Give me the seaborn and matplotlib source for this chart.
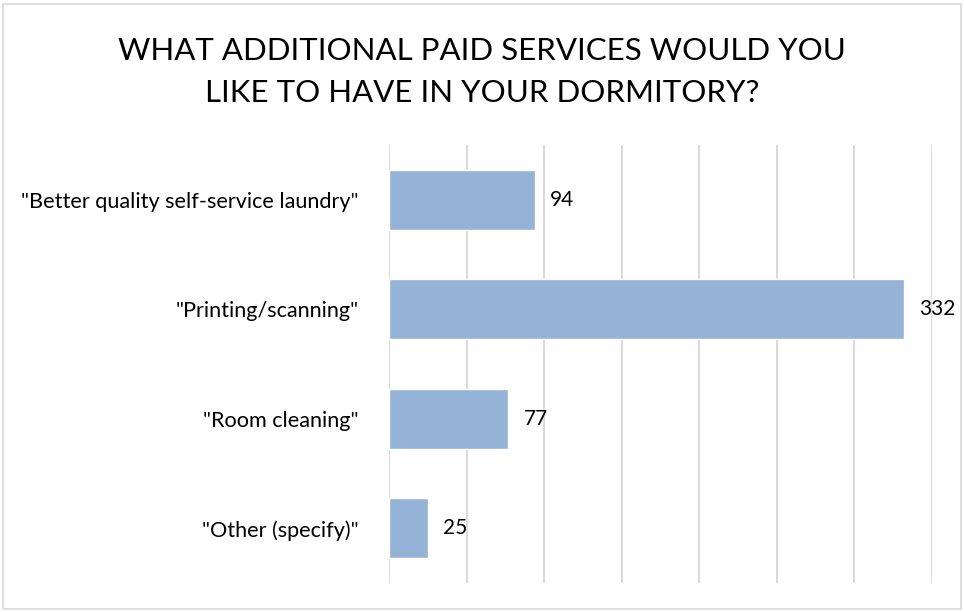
import matplotlib
matplotlib.use("Agg")
import matplotlib.pyplot as plt
import seaborn as sns
import pandas as pd

categories = [
    '"Better quality self-service laundry"',
    '"Printing/scanning"',
    '"Room cleaning"',
    '"Other (specify)"',
]
counts = [94, 332, 77, 25]
title = "WHAT ADDITIONAL PAID SERVICES WOULD YOU\nLIKE TO HAVE IN YOUR DORMITORY?"

df = pd.DataFrame({"service": categories, "count": counts})

sns.set_theme(style="white")
plt.rcParams["font.family"] = ["Lato", "DejaVu Sans"]

fig = plt.figure(figsize=(9.64, 6.12), dpi=100)
ax = fig.add_axes([389 / 964, 29 / 612, (932 - 389) / 964, (583 - 145) / 612])

sns.barplot(data=df, x="count", y="service", color="#95B3D7", saturation=1,
            width=0.545, ax=ax, orient="h")

ax.set_xlim(0, 350)
ax.set_ylim(3.5, -0.5)
ax.set_xticks(range(0, 351, 50))
ax.xaxis.grid(True, color="#D9D9D9", linewidth=1.4)
ax.set_axisbelow(True)
ax.tick_params(axis="x", length=0, labelbottom=False)
ax.tick_params(axis="y", length=0, labelsize=15.6, colors="#000000", pad=22)
ax.set_xlabel("")
ax.set_ylabel("")
for s in ax.spines.values():
    s.set_visible(False)

for i, v in enumerate(counts):
    ax.text(v + 10, i, str(v), va="center", ha="left", fontsize=15, color="#000000")

fig.text(0.5, 1 - 72 / 612, title, ha="center", va="center", fontsize=22.5,
         linespacing=1.6, color="#000000")

# outer chart border
fig.patches.append(plt.Rectangle((3 / 964, 3 / 612), 958 / 964, 605 / 612,
                                 transform=fig.transFigure, fill=False,
                                 edgecolor="#D9D9D9", linewidth=1.2))

fig.savefig("out.png", dpi=100)
